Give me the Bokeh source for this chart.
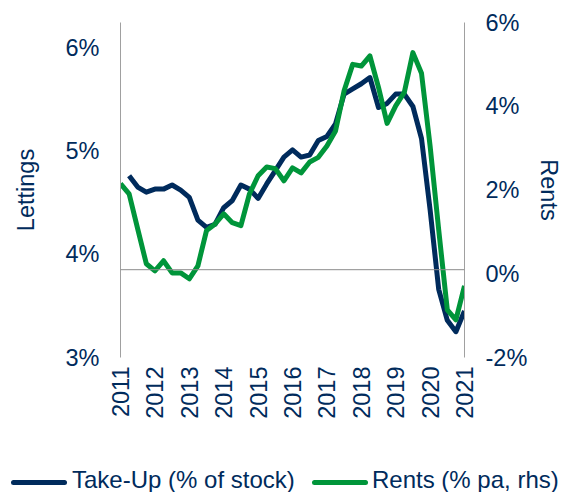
import math
from bokeh.plotting import figure
from bokeh.layouts import column
from bokeh.models import (Range1d, LinearAxis, FixedTicker, Span, ColumnDataSource, Div)
from bokeh.embed import file_html
from bokeh.resources import INLINE

# ---- data (quarterly, 2011Q1 .. 2021Q1) ----
start_year = 2011
n_quarters = 41
years = list(range(2011, 2022))
year_labels = [str(y) for y in years]

# Take-Up (% of stock), left axis; first quarter missing
take_up = [None, 4.76, 4.65, 4.60, 4.63, 4.63, 4.67, 4.62, 4.55, 4.33,
           4.26, 4.29, 4.45, 4.52, 4.67, 4.63, 4.54, 4.68, 4.81, 4.94,
           5.01, 4.94, 4.96, 5.10, 5.14, 5.26, 5.55, 5.60, 5.65, 5.71,
           5.42, 5.46, 5.55, 5.55, 5.43, 5.12, 4.43, 3.66, 3.36, 3.25,
           3.45]

# Rents (% pa), right axis
rents = [2.15, 1.91, 1.07, 0.24, 0.07, 0.31, 0.02, 0.02, -0.12, 0.19,
         1.03, 1.19, 1.43, 1.22, 1.15, 1.91, 2.34, 2.55, 2.51, 2.22,
         2.53, 2.41, 2.67, 2.78, 3.05, 3.41, 4.37, 5.00, 4.96, 5.20,
         4.45, 3.59, 4.01, 4.33, 5.28, 4.79, 3.05, 1.05, -0.86, -1.10,
         -0.29]

left_ticks = [3, 4, 5, 6]
right_ticks = [-2, 0, 2, 4, 6]

series_names = ["Take-Up (% of stock)", "Rents (% pa, rhs)"]

quarter_x = [start_year + i / 4 for i in range(n_quarters)]
tu_x = [x for x, v in zip(quarter_x, take_up) if v is not None]
tu_y = [v for v in take_up if v is not None]

NAVY = "#002B5C"
GREEN = "#00953A"
GREY = "#A0A0A0"
FONT = "Liberation Sans"
FS = "23.5px"

p = figure(frame_width=344, frame_height=335, output_backend="svg", toolbar_location=None,
           x_range=Range1d(2011, 2021), y_range=Range1d(3, 6.243),
           min_border_left=120, min_border_right=100, min_border_top=22,
           min_border_bottom=95, outline_line_color=None)
p.extra_y_ranges = {"right": Range1d(-2, 6)}
p.grid.visible = False
p.xaxis.visible = False
p.yaxis.visible = False

# horizontal category axis line (crossing)
p.add_layout(Span(location=3.85, dimension="width", line_color="#8C8C8C", line_width=1))

src_r = ColumnDataSource(dict(x=quarter_x, y=rents))
src_t = ColumnDataSource(dict(x=tu_x, y=tu_y))
r_tu = p.line("x", "y", source=src_t, line_color=NAVY, line_width=5, line_join="round")
r_re = p.line("x", "y", source=src_r, line_color=GREEN, line_width=5, line_join="round",
              y_range_name="right")


def style_axis(ax):
    ax.major_label_text_font = FONT
    ax.major_label_text_font_size = FS
    ax.major_label_text_color = NAVY
    ax.axis_label_text_font = FONT
    ax.axis_label_text_font_size = FS
    ax.axis_label_text_color = NAVY
    ax.axis_label_text_font_style = "normal"
    ax.major_tick_line_color = None
    ax.minor_tick_line_color = None
    ax.major_tick_out = 0
    ax.major_tick_in = 0
    ax.minor_tick_out = 0
    ax.minor_tick_in = 0


left = LinearAxis(ticker=FixedTicker(ticks=left_ticks), axis_label="Lettings")
left.major_label_overrides = {t: f"{t}%" for t in left_ticks}
style_axis(left)
left.axis_line_color = GREY
left.major_label_standoff = 21
left.axis_label_standoff = 24
p.add_layout(left, "left")

right = LinearAxis(ticker=FixedTicker(ticks=right_ticks), axis_label="Rents",
                   y_range_name="right")
right.major_label_overrides = {t: f"{t}%" for t in right_ticks}
style_axis(right)
right.axis_line_color = GREY
right.major_label_standoff = 21
right.axis_label_standoff = 6
p.add_layout(right, "right")

bottom = LinearAxis(ticker=FixedTicker(ticks=years))
bottom.major_label_overrides = {y: l for y, l in zip(years, year_labels)}
style_axis(bottom)
bottom.axis_line_color = None
bottom.major_label_orientation = math.pi / 2
bottom.major_label_standoff = 9
p.add_layout(bottom, "below")

# ---- legend strip (HTML, stacked below the plot) ----
def key(left_px, color):
    return (f'<span style="position:absolute;left:{left_px}px;top:28px;width:56px;'
            f'height:5px;border-radius:2.5px;background:{color};"></span>')


def label(left_px, text):
    return (f'<span style="position:absolute;left:{left_px}px;top:16px;line-height:24px;'
            f'white-space:nowrap;">{text}</span>')


legend_html = (
    f'<div style="position:relative;width:564px;height:40px;font-family:\'{FONT}\';'
    f'font-size:24px;color:{NAVY};">'
    + key(11, NAVY) + label(72, series_names[0])
    + key(312, GREEN) + label(372, series_names[1])
    + '</div>'
)
lg = Div(text=legend_html, width=564, height=40,
         styles={"overflow": "visible", "margin": "0", "padding": "0"})

layout = column(p, lg, spacing=0)
html = file_html(layout, INLINE)
open("out.html", "w").write(html)
